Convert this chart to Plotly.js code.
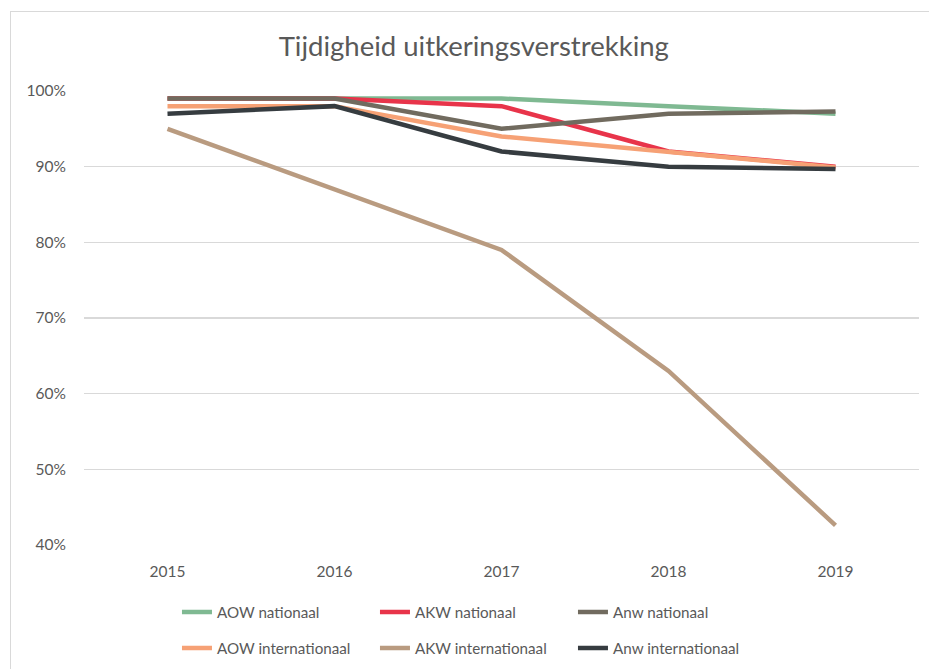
<!DOCTYPE html>
<html>
<head>
<meta charset="utf-8">
<script src="https://cdn.plot.ly/plotly-3.0.1.min.js"></script>
<style>
  html, body { margin: 0; padding: 0; background: #fff; }
  #wrap { position: relative; width: 929px; height: 669px; overflow: hidden; }
  #chart { width: 929px; height: 669px; }
  #frame { position: absolute; left: 10px; top: 11px; width: 940px; height: 680px;
           border: 1.5px solid #d9d9d9; pointer-events: none; }
</style>
</head>
<body>
<div id="wrap">
  <div id="chart"></div>
  <div id="frame"></div>
</div>
<script>
// ---- data ----
const years = ['2015', '2016', '2017', '2018', '2019'];
const seriesNames = ['AOW nationaal', 'AKW nationaal', 'Anw nationaal',
                     'AOW internationaal', 'AKW internationaal', 'Anw internationaal'];
const aowNationaal       = [0.99, 0.99, 0.99, 0.98, 0.97];
const akwNationaal       = [0.99, 0.99, 0.98, 0.92, 0.90];
const anwNationaal       = [0.99, 0.99, 0.95, 0.97, 0.973];
const aowInternationaal  = [0.98, 0.98, 0.94, 0.92, 0.899];
const akwInternationaal  = [0.95, 0.87, 0.79, 0.63, 0.426];
const anwInternationaal  = [0.97, 0.98, 0.92, 0.90, 0.897];
const yTicks = [0.4, 0.5, 0.6, 0.7, 0.8, 0.9, 1.0];
const yTickLabels = ['40%', '50%', '60%', '70%', '80%', '90%', '100%'];

// ---- styles ----
const colors = ['#7fb992', '#e8344a', '#716b5f', '#f6a175', '#b99b80', '#363c40'];
const values = [aowNationaal, akwNationaal, anwNationaal, aowInternationaal, akwInternationaal, anwInternationaal];
const FONT = 'Lato, "Open Sans", sans-serif';
const TXT = '#595959';

const traces = values.map((v, i) => ({
  type: 'scatter', mode: 'lines',
  x: years, y: v, name: seriesNames[i],
  line: { color: colors[i], width: 4.5 },
  legend: i < 3 ? 'legend' : 'legend2',
  hoverinfo: 'x+y+name'
}));

const legendBase = {
  orientation: 'h', xref: 'container', yref: 'container',
  x: 0.1905, xanchor: 'left', yanchor: 'middle',
  entrywidth: 153, entrywidthmode: 'pixels',
  font: { family: FONT, size: 15.2, color: TXT },
  bgcolor: 'rgba(0,0,0,0)', itemwidth: 30, tracegroupgap: 0
};

const layout = {
  width: 929, height: 669,
  paper_bgcolor: '#ffffff', plot_bgcolor: '#ffffff',
  margin: { l: 84, r: 10, t: 91, b: 124 },
  title: { text: 'Tijdigheid uitkeringsverstrekking',
           font: { family: FONT, size: 27.5, color: TXT },
           x: 0.51, xref: 'container', y: 0.93, yref: 'container', xanchor: 'center', yanchor: 'middle' },
  xaxis: { type: 'category', categoryorder: 'array', categoryarray: years,
           range: [-0.5, 4.5],
           showgrid: false, zeroline: false, showline: false,
           ticks: 'outside', ticklen: 12, tickcolor: 'rgba(0,0,0,0)',
           tickfont: { family: FONT, size: 15.5, color: TXT }, automargin: false },
  yaxis: { range: [0.4, 1.0], tickvals: yTicks, ticktext: yTickLabels,
           showgrid: true, gridcolor: '#d9d9d9', gridwidth: 1.5, zeroline: false,
           showline: false, ticks: 'outside', ticklen: 14, tickcolor: 'rgba(0,0,0,0)',
           tickfont: { family: FONT, size: 15.5, color: TXT }, automargin: false },
  showlegend: true,
  legend: Object.assign({}, legendBase, { y: 1 - 612 / 669 }),
  legend2: Object.assign({}, legendBase, { y: 1 - 648 / 669 })
};

Plotly.newPlot('chart', traces, layout, { displayModeBar: false, staticPlot: true });
</script>
</body>
</html>
